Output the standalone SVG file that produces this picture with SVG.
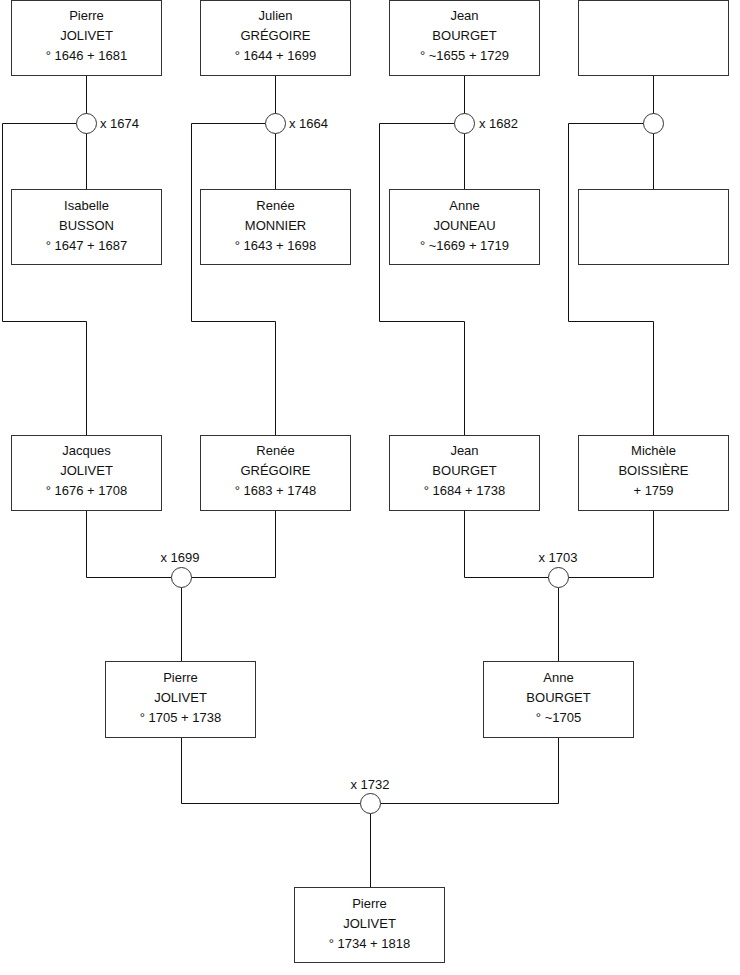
<svg xmlns="http://www.w3.org/2000/svg" width="740" height="975" viewBox="0 0 740 975">
<style>
.box{fill:#fff;stroke:#333;stroke-width:1}
.ln{fill:none;stroke:#111;stroke-width:1}
.ring{fill:#fff;stroke:#333;stroke-width:1}
text{font-family:"Liberation Sans",Arial,sans-serif;font-size:13px;fill:#111}
.c{text-anchor:middle}
</style>
<rect width="740" height="975" fill="#fff"/>
<g id="connectors">
<path class="ln" d="M86.5 75.5V189.5M76.5 123.5H2.5V321.5H86.5V435.5"/>
<path class="ln" d="M275.5 75.5V189.5M265.5 123.5H191.5V321.5H275.5V435.5"/>
<path class="ln" d="M464.5 75.5V189.5M454.5 123.5H379.5V321.5H464.5V435.5"/>
<path class="ln" d="M653.5 75.5V189.5M643.5 123.5H568.5V321.5H653.5V435.5"/>
<path class="ln" d="M86.5 510.5V577.5H171.5M191.5 577.5H275.5V510.5M181.5 587.5V661.5"/>
<path class="ln" d="M464.5 510.5V577.5H548.5M568.5 577.5H653.5V510.5M558.5 587.5V661.5"/>
<path class="ln" d="M181.5 737.5V803.5H360.5M380.5 803.5H558.5V737.5M370.5 813.5V887.5"/>
<circle class="ring" cx="86.5" cy="123.5" r="10"/>
<circle class="ring" cx="275.5" cy="123.5" r="10"/>
<circle class="ring" cx="464.5" cy="123.5" r="10"/>
<circle class="ring" cx="653.5" cy="123.5" r="10"/>
<circle class="ring" cx="181.5" cy="577.5" r="10"/>
<circle class="ring" cx="558.5" cy="577.5" r="10"/>
<circle class="ring" cx="370.5" cy="803.5" r="10"/>
<text x="100" y="128">x 1674</text>
<text x="289" y="128">x 1664</text>
<text x="479" y="128">x 1682</text>
<text class="c" x="180" y="562">x 1699</text>
<text class="c" x="558" y="562">x 1703</text>
<text class="c" x="370" y="789">x 1732</text>
</g>
<g id="n1"><rect class="box" x="11.5" y="0.5" width="150" height="75"/><text class="c" x="86.5" y="20">Pierre</text><text class="c" x="86.5" y="40">JOLIVET</text><text class="c" x="86.5" y="60">° 1646 + 1681</text></g>
<g id="n2"><rect class="box" x="200.5" y="0.5" width="150" height="75"/><text class="c" x="275.5" y="20">Julien</text><text class="c" x="275.5" y="40">GRÉGOIRE</text><text class="c" x="275.5" y="60">° 1644 + 1699</text></g>
<g id="n3"><rect class="box" x="389.5" y="0.5" width="150" height="75"/><text class="c" x="464.5" y="20">Jean</text><text class="c" x="464.5" y="40">BOURGET</text><text class="c" x="464.5" y="60">° ~1655 + 1729</text></g>
<g id="n4"><rect class="box" x="578.5" y="0.5" width="150" height="75"/></g>
<g id="n5"><rect class="box" x="11.5" y="189.5" width="150" height="75"/><text class="c" x="86.5" y="210">Isabelle</text><text class="c" x="86.5" y="230">BUSSON</text><text class="c" x="86.5" y="250">° 1647 + 1687</text></g>
<g id="n6"><rect class="box" x="200.5" y="189.5" width="150" height="75"/><text class="c" x="275.5" y="210">Renée</text><text class="c" x="275.5" y="230">MONNIER</text><text class="c" x="275.5" y="250">° 1643 + 1698</text></g>
<g id="n7"><rect class="box" x="389.5" y="189.5" width="150" height="75"/><text class="c" x="464.5" y="210">Anne</text><text class="c" x="464.5" y="230">JOUNEAU</text><text class="c" x="464.5" y="250">° ~1669 + 1719</text></g>
<g id="n8"><rect class="box" x="578.5" y="189.5" width="150" height="75"/></g>
<g id="n9"><rect class="box" x="11.5" y="435.5" width="150" height="75"/><text class="c" x="86.5" y="455">Jacques</text><text class="c" x="86.5" y="475">JOLIVET</text><text class="c" x="86.5" y="495">° 1676 + 1708</text></g>
<g id="n10"><rect class="box" x="200.5" y="435.5" width="150" height="75"/><text class="c" x="275.5" y="455">Renée</text><text class="c" x="275.5" y="475">GRÉGOIRE</text><text class="c" x="275.5" y="495">° 1683 + 1748</text></g>
<g id="n11"><rect class="box" x="389.5" y="435.5" width="150" height="75"/><text class="c" x="464.5" y="455">Jean</text><text class="c" x="464.5" y="475">BOURGET</text><text class="c" x="464.5" y="495">° 1684 + 1738</text></g>
<g id="n12"><rect class="box" x="578.5" y="435.5" width="150" height="75"/><text class="c" x="653.5" y="455">Michèle</text><text class="c" x="653.5" y="475">BOISSIÈRE</text><text class="c" x="653.5" y="495">+ 1759</text></g>
<g id="n13"><rect class="box" x="105.5" y="661.5" width="150" height="76"/><text class="c" x="180.5" y="682">Pierre</text><text class="c" x="180.5" y="702">JOLIVET</text><text class="c" x="180.5" y="722">° 1705 + 1738</text></g>
<g id="n14"><rect class="box" x="483.5" y="661.5" width="150" height="76"/><text class="c" x="558.5" y="682">Anne</text><text class="c" x="558.5" y="702">BOURGET</text><text class="c" x="558.5" y="722">° ~1705</text></g>
<g id="n15"><rect class="box" x="294.5" y="887.5" width="150" height="75"/><text class="c" x="369.5" y="908">Pierre</text><text class="c" x="369.5" y="928">JOLIVET</text><text class="c" x="369.5" y="948">° 1734 + 1818</text></g>
</svg>
